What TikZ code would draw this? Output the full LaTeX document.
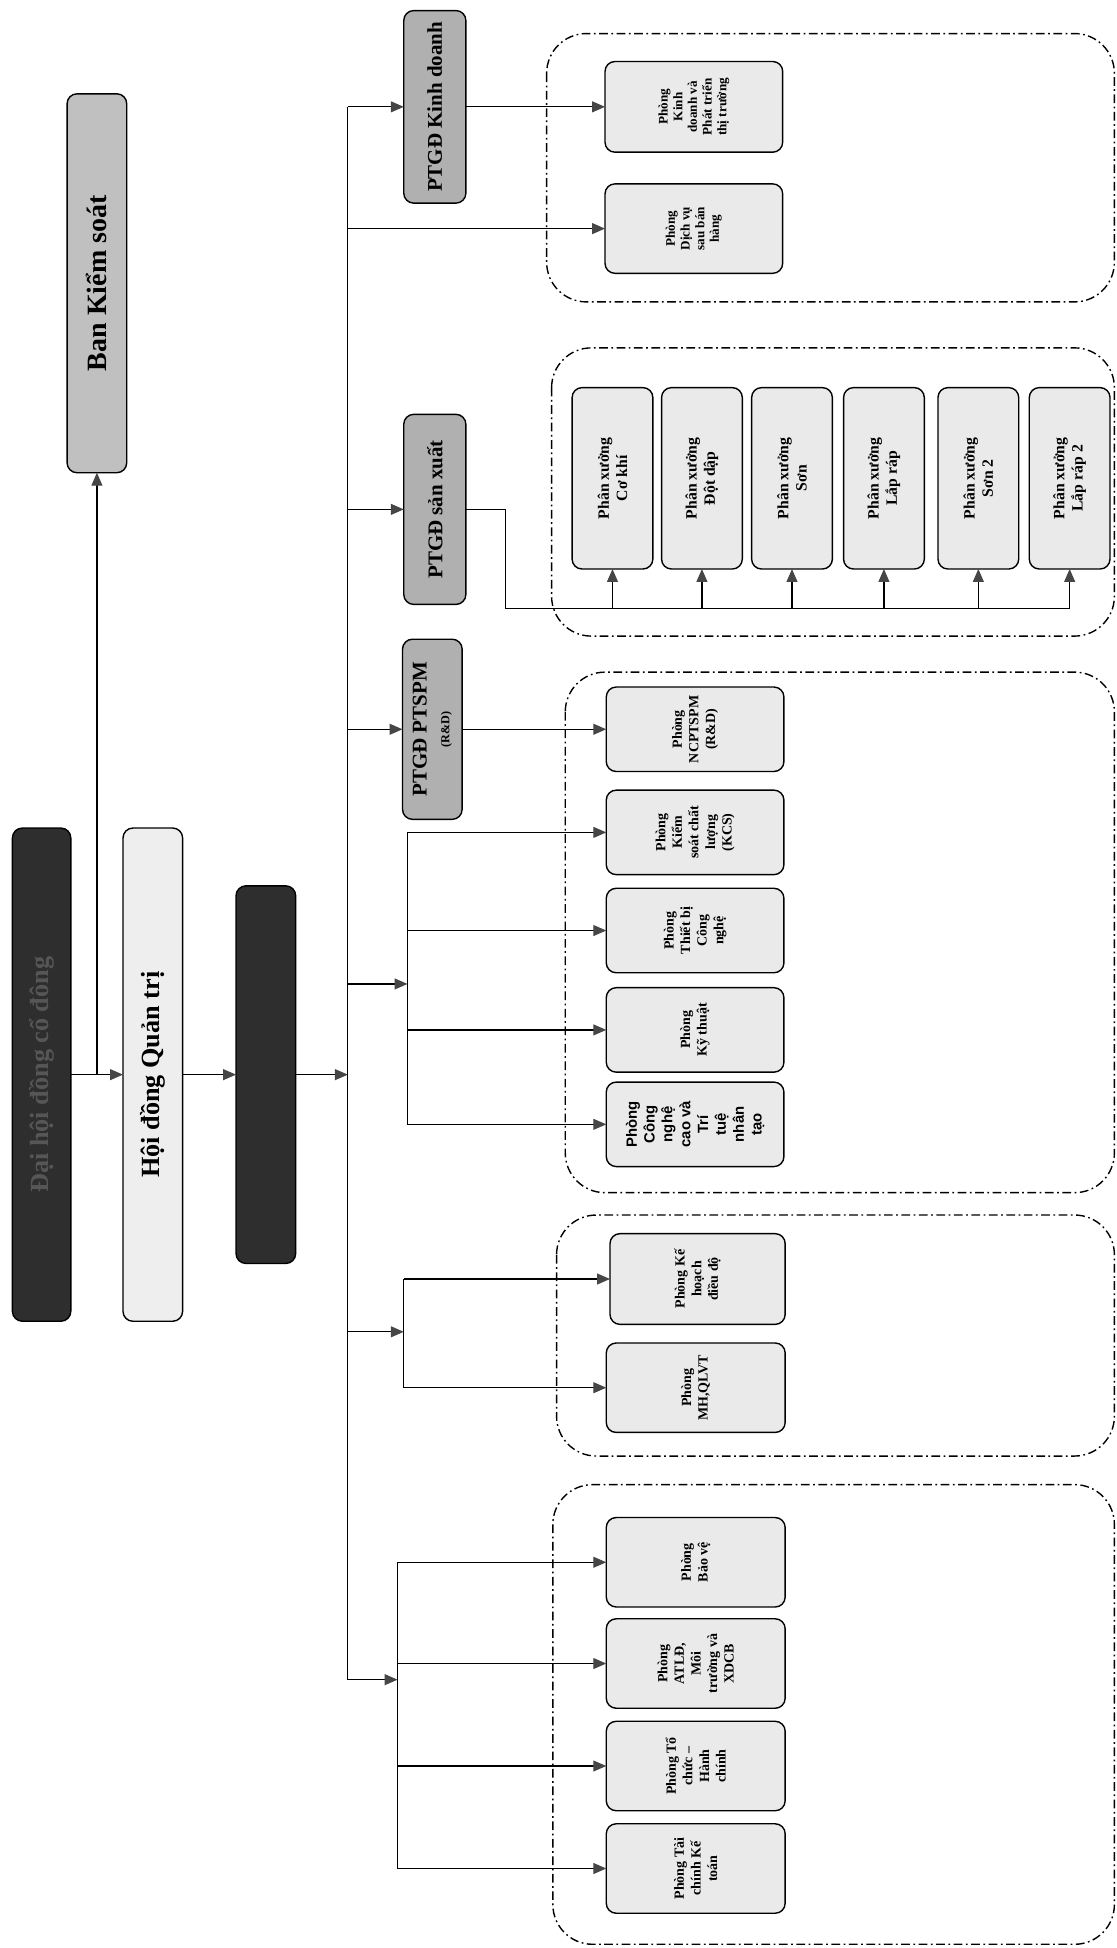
\documentclass[tikz,border=0pt]{standalone}
\usepackage{fontspec}
\setmainfont{Liberation Serif}
\setsansfont{Liberation Sans}
\usetikzlibrary{arrows.meta, calc}
\definecolor{BoardDark}{RGB}{46,46,46}
\definecolor{BoardText}{RGB}{86,86,86}
\definecolor{BoardLight}{RGB}{238,238,238}
\definecolor{ControlGray}{RGB}{192,192,192}
\definecolor{DeputyGray}{RGB}{176,176,176}
\definecolor{DeptPale}{RGB}{234,234,234}
\definecolor{TipGray}{RGB}{70,70,70}
\tikzset{
    sz/.style 2 args={minimum width=#1*0.025cm, minimum height=#2*0.025cm},
    box/.style={draw, line width=0.8pt, rounded corners=2mm, rotate=90, align=center, inner sep=1pt, outer sep=0pt},
    board/.style={box, font=\fontsize{15}{17}\selectfont\bfseries},
    deputy/.style={box, fill=DeputyGray, font=\fontsize{12}{13}\selectfont\bfseries},
    dept/.style={box, fill=DeptPale, font=\fontsize{8}{9.5}\selectfont\bfseries},
    sales/.style={dept, font=\fontsize{7.5}{8.4}\selectfont\bfseries},
    shop/.style={dept, font=\fontsize{9}{10.5}\selectfont\bfseries},
    link/.style={line width=0.7pt},
    arr/.style={link, -{Triangle[length=2.6mm, width=2.2mm, color=TipGray]}},
    grp/.style={line width=0.8pt, dash pattern=on 5pt off 2pt on 1pt off 2pt, rounded corners=8mm}
}

\begin{document}
\begin{tikzpicture}[x=0.025cm, y=-0.025cm]
    \useasboundingbox (0,0) rectangle (899,1568);

    % Board level
    \node[board, sz={397}{47}, fill=BoardDark, text=BoardText] (dhdcd) at (33.5,865) {Đại hội đồng cổ đông};
    \node[board, sz={397}{48}, fill=BoardLight] (hdqt) at (123,865) {Hội đồng Quản trị};
    \node[board, sz={304}{48}, fill=BoardDark] (tgd) at (214,865) {};
    \node[board, sz={305}{48}, fill=ControlGray, font=\fontsize{16}{18}\selectfont\bfseries] (bks) at (78,228) {Ban Kiểm soát};
    \coordinate (split) at (78,865);
    \draw[link] (dhdcd) -- (split);
    \draw[arr] (split) -- (hdqt);
    \draw[arr] (split) -- (bks);
    \draw[arr] (hdqt) -- (tgd);

    % Main bus
    \coordinate (bustop) at (280,86);
    \coordinate (busbot) at (280,1352);
    \draw[arr] (tgd) -- (tgd -| bustop);
    \draw[link] (bustop) -- (busbot);

    % Deputies
    \node[deputy, sz={155}{50}] (ptkd) at (350,86) {PTGĐ Kinh doanh};
    \node[deputy, sz={153}{50}] (ptsx) at (350,410) {PTGĐ sản xuất};
    \node[deputy, sz={145}{48}] (ptrd) at (348,587) {PTGĐ PTSPM\\{\fontsize{7}{8}\selectfont (R\&D)}};
    \draw[arr] (bustop) -- (ptkd);
    \draw[arr] (bustop |- ptsx) -- (ptsx);
    \draw[arr] (bustop |- ptrd) -- (ptrd);

    % Kinh doanh group
    \draw[grp] (440,27) rectangle (897,243);
    \node[sales, sz={73}{143}] (kd1) at (558.5,86) {Phòng\\Kinh\\doanh và\\Phát triển\\thị trường};
    \node[sales, sz={72}{143}] (kd2) at (558.5,184) {Phòng\\Dịch vụ\\sau bán\\hàng};
    \draw[arr] (ptkd) -- (kd1);
    \draw[arr] (bustop |- kd2) -- (kd2);

    % San xuat group
    \draw[grp] (444,280) rectangle (897,512);
    \foreach \nd/\cx/\txt in {sx1/493/Cơ khí, sx2/565/Đột dập, sx3/637.5/Sơn, sx4/711.5/Lắp ráp, sx5/787.5/Sơn 2, sx6/861/Lắp ráp 2}
      \node[shop, sz={146}{65}] (\nd) at (\cx,385) {Phân xưởng\\\txt};
    \coordinate (sxbend) at (407,490);
    \draw[link] (ptsx) -| (sxbend) -- (sxbend -| sx6);
    \foreach \nd in {sx1,sx2,sx3,sx4,sx5,sx6}
      \draw[arr] (sxbend -| \nd) -- (\nd);

    % R&D and technical group
    \draw[grp] (455,541) rectangle (897,960);
    \node[dept, sz={68}{143}] (rd1) at (559.5,587) {Phòng\\NCPTSPM\\(R\&D)};
    \node[dept, sz={68}{143}] (rd2) at (559.5,670) {Phòng\\Kiểm\\soát chất\\lượng\\(KCS)};
    \node[dept, sz={68}{143}] (rd3) at (559.5,749) {Phòng\\Thiết bị\\Công\\nghệ};
    \node[dept, sz={68}{143}] (rd4) at (559.5,829) {Phòng\\Kỹ thuật};
    \node[dept, sz={68}{143}, font=\fontsize{8.5}{10.2}\selectfont\sffamily\bfseries] (rd5) at (559.5,905) {Phòng\\Công\\nghệ\\cao và\\Trí\\tuệ\\nhân\\tạo};
    \draw[arr] (ptrd) -- (rd1);
    \coordinate (rdbus) at (328,792);
    \draw[arr] (bustop |- rdbus) -- (rdbus);
    \draw[link] (rdbus |- rd2) -- (rdbus |- rd5);
    \foreach \nd in {rd2,rd3,rd4,rd5}
      \draw[arr] (rdbus |- \nd) -- (\nd);

    % Ke hoach group
    \draw[grp] (448,978) rectangle (897,1172);
    \node[dept, sz={73}{141}] (kh1) at (561.5,1029.5) {Phòng Kế\\hoạch\\điều độ};
    \node[dept, sz={72}{144}] (kh2) at (560,1117) {Phòng\\MH,QLVT};
    \coordinate (khbus) at (325,1072);
    \draw[arr] (bustop |- khbus) -- (khbus);
    \draw[link] (khbus |- kh1) -- (khbus |- kh2);
    \foreach \nd in {kh1,kh2}
      \draw[arr] (khbus |- \nd) -- (\nd);

    % Hanh chinh group
    \draw[grp] (445,1195) rectangle (897,1565);
    \node[dept, sz={72}{144}] (hc1) at (560,1257.5) {Phòng\\Bảo vệ};
    \node[dept, sz={72}{144}] (hc2) at (560,1339) {Phòng\\ATLĐ,\\Môi\\trường và\\XDCB};
    \node[dept, sz={72}{144}] (hc3) at (560,1421.5) {Phòng Tổ\\chức –\\Hành\\chính};
    \node[dept, sz={72}{144}] (hc4) at (560,1504) {Phòng Tài\\chính Kế\\toán};
    \coordinate (hcbus) at (320,1352);
    \draw[arr] (busbot) -- (hcbus);
    \draw[link] (hcbus |- hc1) -- (hcbus |- hc4);
    \foreach \nd in {hc1,hc2,hc3,hc4}
      \draw[arr] (hcbus |- \nd) -- (\nd);
\end{tikzpicture}
\end{document}
